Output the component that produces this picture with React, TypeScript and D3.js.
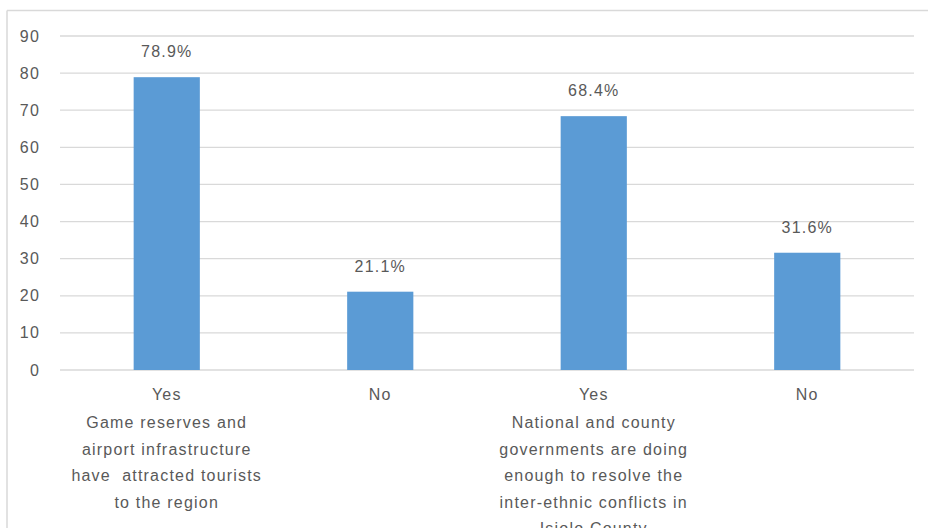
import React from "react";
import * as d3 from "d3";

const categories = ["cat1", "cat2", "cat3", "cat4"];
const values = [78.9, 21.1, 68.4, 31.6];
const valueLabels = ["78.9%", "21.1%", "68.4%", "31.6%"];
const categoryLines: string[][] = [
  ["Yes", "Game reserves and", "airport infrastructure", "have  attracted tourists", "to the region"],
  ["No"],
  ["Yes", "National and county", "governments are doing", "enough to resolve the", "inter-ethnic conflicts in", "Isiolo County"],
  ["No"],
];
const yTicks = [0, 10, 20, 30, 40, 50, 60, 70, 80, 90];

const W = 928;
const H = 528;
const left = 60;
const right = 914;
const top = 36;
const bottom = 370;

export default function App() {
  const x = d3.scaleBand<string>().domain(categories).range([left, right]).paddingInner(0.69).paddingOuter(0.345);
  const y = d3.scaleLinear().domain([0, 90]).range([bottom, top]);
  const font = "'Liberation Sans', Arial, sans-serif";
  const textColor = "#595959";
  const fs = 16;
  const ls = 1.2;
  return (
    <svg width={W} height={H} style={{ position: "absolute", left: 0, top: 0, background: "#fff" }} fontFamily={font}>
      <rect x={0} y={0} width={W} height={H} fill="#fff" />
      <line x1={7} x2={W} y1={10.5} y2={10.5} stroke="#d9d9d9" strokeWidth={1.5} />
      <line x1={7} x2={7} y1={10.5} y2={H} stroke="#d9d9d9" strokeWidth={1.5} />
      {yTicks.map((t) => (
        <g key={t}>
          <line x1={left} x2={right} y1={y(t)} y2={y(t)} stroke="#d9d9d9" strokeWidth={1.3} />
          <text x={40} y={y(t)} dy="0.35em" textAnchor="end" fontSize={fs} letterSpacing={ls} fill={textColor}>
            {t}
          </text>
        </g>
      ))}
      {categories.map((c, i) => {
        const bx = x(c)!;
        const bw = x.bandwidth();
        const cx = bx + bw / 2;
        return (
          <g key={c}>
            <rect x={bx} y={y(values[i])} width={bw} height={y(0) - y(values[i])} fill="#5b9bd5" />
            <text x={cx} y={y(values[i]) - 20} textAnchor="middle" fontSize={fs} letterSpacing={ls} fill={textColor}>
              {valueLabels[i]}
            </text>
            {categoryLines[i].map((ln, j) => (
              <text key={j} x={cx} y={400 + (j === 0 ? 0 : 1.5 + j * 26.5)} textAnchor="middle" fontSize={fs} letterSpacing={ls} fill={textColor} style={{ whiteSpace: "pre" }}>
                {ln}
              </text>
            ))}
          </g>
        );
      })}
    </svg>
  );
}
